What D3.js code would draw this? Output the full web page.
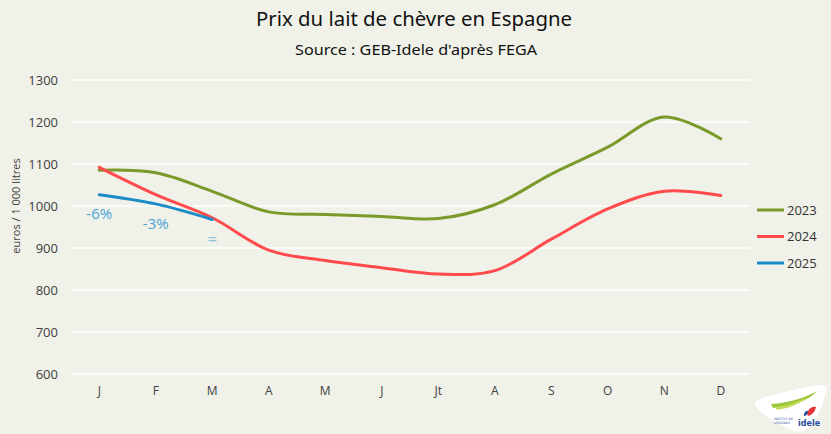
<!DOCTYPE html>
<html><head><meta charset="utf-8">
<script src="https://cdn.jsdelivr.net/npm/d3@7"></script>
<style>body{margin:0;background:#F0F1E8;}svg{display:block;}</style>
</head><body>
<script>
const months = ["J","F","M","A","M","J","Jt","A","S","O","N","D"];
const yTicks = [600,700,800,900,1000,1100,1200,1300];
const s2023 = [1085,1079,1035,986,980,975,970,1003,1076,1140,1212,1160];
const s2024 = [1092,1027,972,895,870,853,838,846,921,993,1035,1025];
const s2025 = [1027,1005,968];
const seriesNames = ["2023","2024","2025"];
const annotations = [{m:0,label:"-6%"},{m:1,label:"-3%"},{m:2,label:"="}];

const W=831,H=434;
const svg=d3.select("body").append("svg").attr("width",W).attr("height",H);
svg.append("rect").attr("width",W).attr("height",H).attr("fill","#F0F1E8");

const x=d3.scaleBand().domain(d3.range(12)).range([71,749]);
const y=d3.scaleLinear().domain([600,1300]).range([374,80]);
const cx=i=>x(i)+x.bandwidth()/2;

// grid
svg.append("g").selectAll("line").data(yTicks).join("line")
  .attr("x1",71).attr("x2",749).attr("y1",d=>y(d)).attr("y2",d=>y(d))
  .attr("stroke","#fff").attr("stroke-width",1.5);

// y axis
const ya=svg.append("g").attr("transform","translate(66,0)")
  .call(d3.axisLeft(y).tickValues(yTicks).tickFormat(d3.format("d")).tickSize(0).tickPadding(8));
ya.select(".domain").remove();
ya.selectAll("text").attr("font-family","'Open Sans',sans-serif").attr("font-size",13).attr("fill","#404040");

// x axis
const xa=svg.append("g").attr("transform","translate(0,384)")
  .call(d3.axisBottom(x).tickFormat(i=>months[i]).tickSize(0).tickPadding(2));
xa.select(".domain").remove();
xa.selectAll("text").attr("font-family","'Open Sans',sans-serif").attr("font-size",12).attr("fill","#404040");

// y label
svg.append("text").attr("transform","translate(20,206) rotate(-90)").attr("text-anchor","middle")
  .attr("font-family","'Open Sans',sans-serif").attr("font-size",11).attr("fill","#404040")
  .text("euros / 1 000 litres");

const colors=["#7A9A2A","#FF4B4B","#1B8CC8"];
const data=[s2023,s2024,s2025];
const line=d3.line().x((d,i)=>cx(i)).y(d=>y(d)).curve(d3.curveCatmullRom.alpha(0.5));
svg.append("g").selectAll("path").data(data).join("path")
  .attr("d",d=>line(d)).attr("fill","none").attr("stroke",(d,i)=>colors[i])
  .attr("stroke-width",3).attr("stroke-linecap","round");

// annotations
const annY=[215,225,240];
svg.append("g").selectAll("text").data(annotations).join("text")
  .attr("x",d=>cx(d.m)).attr("y",(d,i)=>annY[i]).attr("text-anchor","middle")
  .attr("dominant-baseline","middle")
  .attr("font-family","'Open Sans',sans-serif").attr("font-size",(d,i)=>i==2?17:15)
  .attr("fill",(d,i)=>i==2?"#8EC3DD":"#4AA5D6").text(d=>d.label);

// legend
const lg=svg.append("g").selectAll("g").data(seriesNames).join("g")
  .attr("transform",(d,i)=>`translate(757,${210+i*26.5})`);
lg.append("line").attr("x1",0).attr("x2",27).attr("stroke",(d,i)=>colors[i]).attr("stroke-width",3);
lg.append("text").attr("x",30).attr("dy","0.35em")
  .attr("font-family","'Open Sans',sans-serif").attr("font-size",13).attr("fill","#333").text(d=>d);

// title
svg.append("text").attr("x",414).attr("y",26).attr("text-anchor","middle")
  .attr("font-family","'Noto Sans',sans-serif").attr("font-size",20).attr("fill","#111")
  .attr("textLength",316).attr("lengthAdjust","spacingAndGlyphs")
  .text("Prix du lait de chèvre en Espagne");
svg.append("text").attr("x",416).attr("y",55).attr("text-anchor","middle")
  .attr("font-family","'Noto Sans',sans-serif").attr("font-size",15).attr("fill","#111")
  .attr("textLength",242).attr("lengthAdjust","spacingAndGlyphs")
  .text("Source : GEB-Idele d'après FEGA");

// logo
const logo=svg.append("g").attr("transform","translate(753,384)");
logo.append("path").attr("d","M2,22 C1,18 4,16 10,14 C30,8 55,2 68,1 C74,1 74,5 72,12 C68,26 62,40 52,46 C47,49 42,48 36,45 C22,38 8,30 2,22 Z").attr("fill","#fff");
logo.append("path").attr("d","M18,20 C35,19 52,14 64,7 C56,16 42,22 20,24 Z").attr("fill","#9CC83C");
logo.append("path").attr("d","M22,23 C35,22 46,18 56,12 C48,19 38,24 24,26 Z").attr("fill","#C8DC5A");
logo.append("path").attr("d","M54,29 C56,24 59,22 63,23 C62,28 59,31 55,32 Z").attr("fill","#E8343C");
logo.append("path").attr("d","M51,30 C52,27 54,26 55,27 C55,30 53,32 51,32 Z").attr("fill","#2A4C9A");
logo.append("text").attr("x",45).attr("y",42).attr("font-family","'DejaVu Sans',sans-serif")
  .attr("font-size",8).attr("font-weight","bold").attr("fill","#2A4C9A").text("idele");
logo.append("text").attr("x",21).attr("y",36).attr("font-family","'DejaVu Sans',sans-serif")
  .attr("font-size",3).attr("fill","#2A4C9A").text("INSTITUT DE");
logo.append("text").attr("x",21).attr("y",40).attr("font-family","'DejaVu Sans',sans-serif")
  .attr("font-size",3).attr("fill","#2A4C9A").text("L'ÉLEVAGE");
</script>
</body></html>
